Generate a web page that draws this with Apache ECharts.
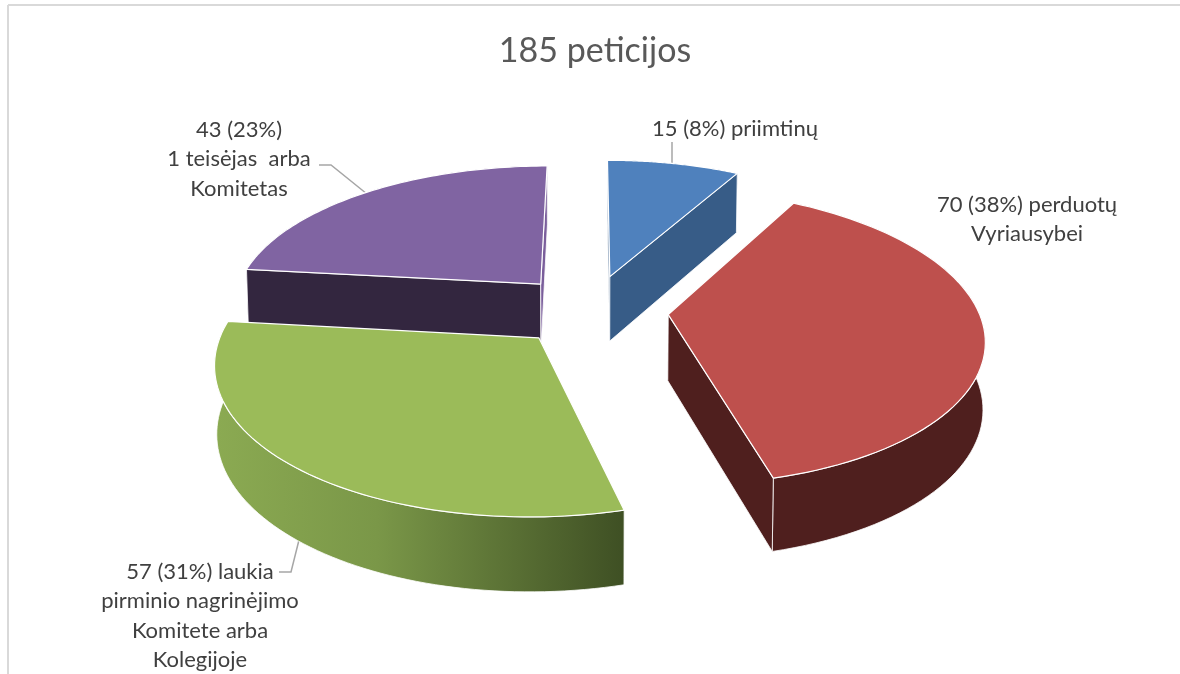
<!DOCTYPE html>
<html>
<head>
<meta charset="utf-8">
<script src="https://cdn.jsdelivr.net/npm/echarts@6/dist/echarts.min.js"></script>
<style>
html, body { margin: 0; padding: 0; background: #fff; }
#chart { width: 1180px; height: 674px; }
</style>
</head>
<body>
<div id="chart"></div>
<script>
var categories = ['priimtinų', 'perduotų Vyriausybei', 'laukia pirminio nagrinėjimo Komitete arba Kolegijoje', '1 teisėjas arba Komitetas'];
var counts = [15, 70, 57, 43];
var title_text = '185 peticijos';

var top_colors = ['#4F81BD', '#BE504D', '#9BBB59', '#8064A2'];
var wall_colors = ['#375C87', '#4F1F1E', '#3F5024', '#33263F'];

// projection of the tilted pie
var cx = 591, cy = 310;
var scale_x = 310, scale_y = 143;
var persp_x = 0.15, persp_y = 0.15;
var depth = 66, shrink = 0.994;
var explode = 0.25;
var start_deg = 0;

var total = counts.reduce(function (a, b) { return a + b; }, 0);

// angles come from the values
var slices = [];
var acc = 0;
counts.forEach(function (v, i) {
    var a0 = (start_deg + acc * 360 / total) * Math.PI / 180;
    acc += v;
    var a1 = (start_deg + acc * 360 / total) * Math.PI / 180;
    slices.push({ index: i, a0: a0, a1: a1, mid: (a0 + a1) / 2 });
});

// far slices first
var draw_order = slices.slice().sort(function (p, q) {
    return Math.cos(q.mid) - Math.cos(p.mid);
});

function project(X, Y) {
    return [cx + scale_x * X / (1 + persp_x * Y), cy - scale_y * Y / (1 + persp_y * Y)];
}

function lower(p, Y) {
    return [cx + (p[0] - cx) * shrink, p[1] + depth / (1 + 0.1 * Y)];
}

function polygon(points, fill, z2, strokeWidth) {
    return {
        type: 'polygon',
        z2: z2,
        shape: { points: points },
        style: { fill: fill, stroke: '#fff', lineWidth: strokeWidth, lineJoin: 'round' }
    };
}

function signed_area(pts) {
    var s = 0;
    for (var i = 0; i < pts.length; i++) {
        var n = pts[(i + 1) % pts.length];
        s += pts[i][0] * n[1] - n[0] * pts[i][1];
    }
    return s / 2;
}

function render_slice(params, api) {
    var s = draw_order[params.dataIndex];
    var ox = explode * Math.sin(s.mid), oy = explode * Math.cos(s.mid);
    var top_pts = [], bottom_pts = [];
    var steps = 72;
    for (var k = 0; k <= steps; k++) {
        var a = s.a0 + (s.a1 - s.a0) * k / steps;
        var X = ox + Math.sin(a), Y = oy + Math.cos(a);
        var p = project(X, Y);
        top_pts.push(p);
        bottom_pts.push(lower(p, Y));
    }
    var apex = project(ox, oy);
    var apex_low = lower(apex, oy);

    var children = [];
    var base = params.dataIndex * 10;
    var wall_fill = wall_colors[s.index];

    // outer rim, its hidden back part ends up under the walls and the top
    var rim_fill = wall_fill;
    if (s.index == 2) {
        rim_fill = new echarts.graphic.LinearGradient(215, 0, 622, 0, [
            { offset: 0, color: '#8BAA52' },
            { offset: 0.4, color: '#7A9748' },
            { offset: 1, color: '#3F5024' }
        ], true);
    }
    children.push(polygon(top_pts.concat(bottom_pts.slice().reverse()), rim_fill, base + 1, 0.8));

    // radial walls, only the ones facing the viewer
    var wall_start = [apex, top_pts[0], bottom_pts[0], apex_low];
    var wall_end = [apex, top_pts[steps], bottom_pts[steps], apex_low];
    if (signed_area(wall_start) < 0) {
        children.push(polygon(wall_start, wall_fill, base + 2, 0.8));
    }
    if (signed_area(wall_end) > 0) {
        // the purple slice shows a lit sliver at its end wall
        children.push(polygon(wall_end, s.index == 3 ? '#7A5E9B' : wall_fill, base + 2, 0.8));
    }

    // top face
    children.push(polygon([apex].concat(top_pts), top_colors[s.index], base + 3, 1.2));

    return { type: 'group', children: children };
}

var label_color = '#404040';
var label_font = '"Lato", "Noto Sans", sans-serif';
var line_color = '#A6A6A6';

function label(x, y, text) {
    return {
        type: 'text',
        x: x,
        y: y,
        style: {
            text: text,
            fill: label_color,
            font: '22px ' + label_font,
            align: 'center',
            verticalAlign: 'top',
            lineHeight: 29.5
        }
    };
}

function leader(points) {
    return {
        type: 'polyline',
        shape: { points: points },
        style: { stroke: line_color, lineWidth: 1.5, fill: null }
    };
}

var label_texts = [
    counts[0] + ' (8%) priimtinų',
    counts[1] + ' (38%) perduotų\nVyriausybei',
    counts[2] + ' (31%) laukia\npirminio nagrinėjimo\nKomitete arba\nKolegijoje',
    counts[3] + ' (23%)\n1 teisėjas  arba\nKomitetas'
];

var myChart = echarts.init(document.getElementById('chart'), null, { renderer: 'canvas' });

var option = {
    animation: false,
    backgroundColor: '#fff',
    title: {
        text: title_text,
        left: 590,
        top: 29,
        textAlign: 'center',
        textStyle: {
            fontSize: 34,
            fontWeight: 'normal',
            fontFamily: label_font,
            color: '#595959'
        }
    },
    tooltip: { show: false },
    series: [{
        type: 'custom',
        coordinateSystem: 'none',
        silent: true,
        data: draw_order.map(function (s) { return counts[s.index]; }),
        renderItem: render_slice
    }],
    graphic: [
        { type: 'line', shape: { x1: 8, y1: 5, x2: 1180, y2: 5 }, style: { stroke: '#D9D9D9', lineWidth: 2 } },
        { type: 'line', shape: { x1: 8, y1: 5, x2: 8, y2: 674 }, style: { stroke: '#D9D9D9', lineWidth: 2 } },
        leader([[672, 142], [672, 165]]),
        leader([[319, 165], [331, 165], [367, 194]]),
        leader([[279, 572], [291, 572], [299, 540]]),
        label(735, 114, label_texts[0]),
        label(1027, 190, label_texts[1]),
        label(200, 557, label_texts[2]),
        label(239, 115, label_texts[3])
    ]
};

myChart.setOption(option);
</script>
</body>
</html>
